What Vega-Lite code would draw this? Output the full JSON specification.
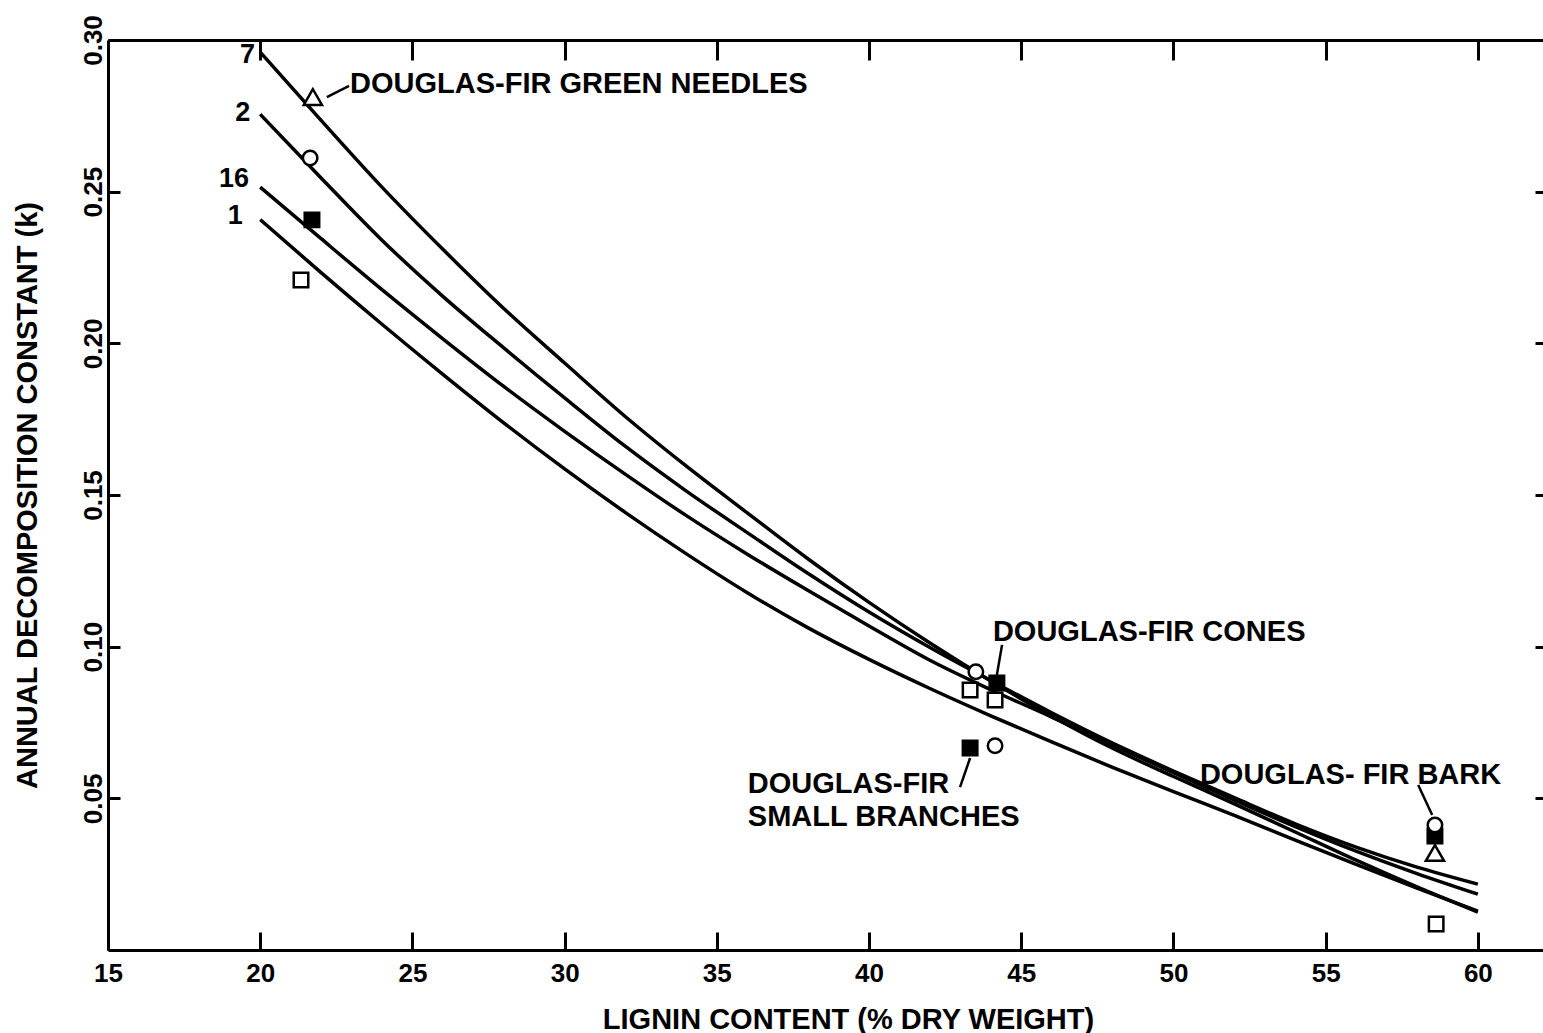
{
  "$schema": "https://vega.github.io/schema/vega-lite/v6.json",
  "width": 1435,
  "height": 910,
  "autosize": {"type": "none"},
  "padding": {"left": 108, "top": 40, "right": 0, "bottom": 83},
  "background": "white",
  "config": {"view": {"stroke": null}, "font": "Liberation Sans"},
  "datasets": {
    "curves": [
      {"curve": "7", "lignin": 20, "k": 0.296}, {"curve": "7", "lignin": 22, "k": 0.2735}, {"curve": "7", "lignin": 24, "k": 0.2515}, {"curve": "7", "lignin": 26, "k": 0.231}, {"curve": "7", "lignin": 28, "k": 0.2115}, {"curve": "7", "lignin": 30, "k": 0.1935}, {"curve": "7", "lignin": 32, "k": 0.1758}, {"curve": "7", "lignin": 34, "k": 0.1595}, {"curve": "7", "lignin": 36, "k": 0.1441}, {"curve": "7", "lignin": 38, "k": 0.1289}, {"curve": "7", "lignin": 40, "k": 0.1146}, {"curve": "7", "lignin": 42, "k": 0.1012}, {"curve": "7", "lignin": 44, "k": 0.0887}, {"curve": "7", "lignin": 46, "k": 0.0771}, {"curve": "7", "lignin": 48, "k": 0.0665}, {"curve": "7", "lignin": 50, "k": 0.0572}, {"curve": "7", "lignin": 52, "k": 0.0482}, {"curve": "7", "lignin": 54, "k": 0.0389}, {"curve": "7", "lignin": 56, "k": 0.0296}, {"curve": "7", "lignin": 58, "k": 0.0208}, {"curve": "7", "lignin": 60, "k": 0.0125},
      {"curve": "2", "lignin": 20, "k": 0.2755}, {"curve": "2", "lignin": 22, "k": 0.2545}, {"curve": "2", "lignin": 24, "k": 0.234}, {"curve": "2", "lignin": 26, "k": 0.2155}, {"curve": "2", "lignin": 28, "k": 0.1985}, {"curve": "2", "lignin": 30, "k": 0.182}, {"curve": "2", "lignin": 32, "k": 0.166}, {"curve": "2", "lignin": 34, "k": 0.1513}, {"curve": "2", "lignin": 36, "k": 0.1376}, {"curve": "2", "lignin": 38, "k": 0.1241}, {"curve": "2", "lignin": 40, "k": 0.1114}, {"curve": "2", "lignin": 42, "k": 0.0997}, {"curve": "2", "lignin": 44, "k": 0.0888}, {"curve": "2", "lignin": 46, "k": 0.0782}, {"curve": "2", "lignin": 48, "k": 0.0682}, {"curve": "2", "lignin": 50, "k": 0.059}, {"curve": "2", "lignin": 52, "k": 0.0502}, {"curve": "2", "lignin": 54, "k": 0.0416}, {"curve": "2", "lignin": 56, "k": 0.0339}, {"curve": "2", "lignin": 58, "k": 0.0273}, {"curve": "2", "lignin": 60, "k": 0.0217},
      {"curve": "16", "lignin": 20, "k": 0.2515}, {"curve": "16", "lignin": 22, "k": 0.2345}, {"curve": "16", "lignin": 24, "k": 0.2177}, {"curve": "16", "lignin": 26, "k": 0.2015}, {"curve": "16", "lignin": 28, "k": 0.1858}, {"curve": "16", "lignin": 30, "k": 0.171}, {"curve": "16", "lignin": 32, "k": 0.1568}, {"curve": "16", "lignin": 34, "k": 0.1432}, {"curve": "16", "lignin": 36, "k": 0.1305}, {"curve": "16", "lignin": 38, "k": 0.1185}, {"curve": "16", "lignin": 40, "k": 0.1068}, {"curve": "16", "lignin": 42, "k": 0.0955}, {"curve": "16", "lignin": 44, "k": 0.0858}, {"curve": "16", "lignin": 46, "k": 0.0768}, {"curve": "16", "lignin": 48, "k": 0.0675}, {"curve": "16", "lignin": 50, "k": 0.0585}, {"curve": "16", "lignin": 52, "k": 0.0494}, {"curve": "16", "lignin": 54, "k": 0.0407}, {"curve": "16", "lignin": 56, "k": 0.0326}, {"curve": "16", "lignin": 58, "k": 0.0252}, {"curve": "16", "lignin": 60, "k": 0.0184},
      {"curve": "1", "lignin": 20, "k": 0.2408}, {"curve": "1", "lignin": 22, "k": 0.2233}, {"curve": "1", "lignin": 24, "k": 0.2063}, {"curve": "1", "lignin": 26, "k": 0.1898}, {"curve": "1", "lignin": 28, "k": 0.1738}, {"curve": "1", "lignin": 30, "k": 0.1586}, {"curve": "1", "lignin": 32, "k": 0.1442}, {"curve": "1", "lignin": 34, "k": 0.1306}, {"curve": "1", "lignin": 36, "k": 0.1178}, {"curve": "1", "lignin": 38, "k": 0.1062}, {"curve": "1", "lignin": 40, "k": 0.0958}, {"curve": "1", "lignin": 42, "k": 0.0862}, {"curve": "1", "lignin": 44, "k": 0.0772}, {"curve": "1", "lignin": 46, "k": 0.0686}, {"curve": "1", "lignin": 48, "k": 0.0602}, {"curve": "1", "lignin": 50, "k": 0.0522}, {"curve": "1", "lignin": 52, "k": 0.0444}, {"curve": "1", "lignin": 54, "k": 0.0362}, {"curve": "1", "lignin": 56, "k": 0.0282}, {"curve": "1", "lignin": 58, "k": 0.0204}, {"curve": "1", "lignin": 60, "k": 0.0128}
    ],
    "markers": [
      {"litter": "cones", "shape": "square", "filled": "no", "lignin": 43.32, "k": 0.0857},
      {"litter": "cones", "shape": "square", "filled": "no", "lignin": 44.14, "k": 0.0824},
      {"litter": "needles", "shape": "square", "filled": "no", "lignin": 21.34, "k": 0.2209},
      {"litter": "bark", "shape": "square", "filled": "no", "lignin": 58.63, "k": 0.0086},
      {"litter": "needles", "shape": "circle", "filled": "no", "lignin": 21.64, "k": 0.2611},
      {"litter": "needles", "shape": "square", "filled": "yes", "lignin": 21.7, "k": 0.2407},
      {"litter": "cones", "shape": "circle", "filled": "no", "lignin": 43.51, "k": 0.0917},
      {"litter": "cones", "shape": "square", "filled": "yes", "lignin": 44.2, "k": 0.088},
      {"litter": "branches", "shape": "square", "filled": "yes", "lignin": 43.32, "k": 0.0666},
      {"litter": "branches", "shape": "circle", "filled": "no", "lignin": 44.14, "k": 0.0673},
      {"litter": "bark", "shape": "square", "filled": "yes", "lignin": 58.59, "k": 0.0376},
      {"litter": "bark", "shape": "circle", "filled": "no", "lignin": 58.59, "k": 0.0412},
      {"litter": "needles", "shape": "triangle", "filled": "no", "lignin": 21.73, "k": 0.2812},
      {"litter": "bark", "shape": "triangle", "filled": "no", "lignin": 58.59, "k": 0.032}
    ],
    "leaders": [
      {"name": "needles", "x1": 22.19, "y1": 0.2812, "x2": 22.92, "y2": 0.2849},
      {"name": "cones", "x1": 44.2, "y1": 0.0907, "x2": 44.37, "y2": 0.1006},
      {"name": "branches", "x1": 43.32, "y1": 0.0633, "x2": 42.99, "y2": 0.0537},
      {"name": "bark", "x1": 58.04, "y1": 0.0544, "x2": 58.5, "y2": 0.0445}
    ],
    "notes": [
      {"text": "DOUGLAS-FIR GREEN NEEDLES", "lignin": 22.95, "k": 0.2855},
      {"text": "DOUGLAS-FIR CONES", "lignin": 44.07, "k": 0.1048},
      {"text": "DOUGLAS-FIR", "lignin": 36.02, "k": 0.0547},
      {"text": "SMALL BRANCHES", "lignin": 36.02, "k": 0.0439},
      {"text": "DOUGLAS- FIR BARK", "lignin": 50.87, "k": 0.0577}
    ],
    "curvelabels": [
      {"text": "7", "lignin": 19.83, "k": 0.2951},
      {"text": "2", "lignin": 19.67, "k": 0.276},
      {"text": "16", "lignin": 19.63, "k": 0.2542},
      {"text": "1", "lignin": 19.43, "k": 0.242}
    ]
  },
  "layer": [
    {
      "data": {"name": "curves"},
      "mark": {"type": "line", "interpolate": "monotone", "color": "black", "strokeWidth": 3.5},
      "encoding": {
        "x": {"field": "lignin", "type": "quantitative", "scale": {"domain": [15, 62.14], "nice": false, "zero": false},
          "axis": {"orient": "bottom", "values": [15, 20, 25, 30, 35, 40, 45, 50, 55, 60], "title": "LIGNIN CONTENT (% DRY WEIGHT)", "grid": false,
            "ticks": true, "tickSize": -18, "tickWidth": 3, "tickColor": "black", "tickOpacity": 1, "domainColor": "black", "domainWidth": 3,
            "labelFont": "Liberation Sans", "labelFontSize": 26, "labelFontWeight": "bold", "labelColor": "black", "labelPadding": 28, "labelFlush": false, "labelOverlap": false,
            "titleFont": "Liberation Sans", "titleFontSize": 29, "titleFontWeight": "bold", "titleColor": "black", "titlePadding": 19, "titleX": 740}},
        "y": {"field": "k", "type": "quantitative", "scale": {"domain": [0, 0.3], "nice": false, "zero": false},
          "axis": {"orient": "left", "values": [0.05, 0.1, 0.15, 0.2, 0.25, 0.3], "format": ".2f", "title": "ANNUAL DECOMPOSITION CONSTANT (k)", "grid": false,
            "ticks": true, "tickSize": -12, "tickWidth": 3, "tickColor": "black", "tickOpacity": 1, "domainColor": "black", "domainWidth": 3,
            "labelFont": "Liberation Sans", "labelFontSize": 26, "labelFontWeight": "bold", "labelColor": "black", "labelAngle": -90, "labelAlign": "center", "labelBaseline": "bottom", "labelPadding": 14, "labelFlush": false, "labelOverlap": false,
            "titleFont": "Liberation Sans", "titleFontSize": 29, "titleFontWeight": "bold", "titleColor": "black", "titlePadding": 38}},
        "detail": {"field": "curve", "type": "nominal"}
      }
    },
    {
      "data": {"name": "leaders"},
      "mark": {"type": "rule", "color": "black", "strokeWidth": 2.5},
      "encoding": {
        "x": {"field": "x1", "type": "quantitative",
          "axis": {"orient": "top", "values": [20, 25, 30, 35, 40, 45, 50, 55, 60], "labels": false, "title": null, "grid": false, "ticks": true, "tickSize": -20, "tickWidth": 3, "tickColor": "black", "tickOpacity": 1, "domainColor": "black", "domainWidth": 3}},
        "x2": {"field": "x2"},
        "y": {"field": "y1", "type": "quantitative",
          "axis": {"orient": "right", "values": [0.05, 0.1, 0.15, 0.2, 0.25], "labels": false, "title": null, "grid": false, "domain": false, "ticks": true, "tickSize": -8, "tickWidth": 3, "tickColor": "black", "tickOpacity": 1}},
        "y2": {"field": "y2"}
      }
    },
    {
      "data": {"name": "markers"},
      "transform": [{"filter": "datum.shape !== 'triangle'"}],
      "mark": {"type": "point", "filled": true, "stroke": "black", "strokeWidth": 2.5, "size": 210, "opacity": 1},
      "encoding": {
        "x": {"field": "lignin", "type": "quantitative", "axis": null},
        "y": {"field": "k", "type": "quantitative", "axis": null},
        "shape": {"field": "shape", "type": "nominal", "scale": {"domain": ["circle", "square"], "range": ["circle", "square"]}, "legend": null},
        "fill": {"field": "filled", "type": "nominal", "scale": {"domain": ["yes", "no"], "range": ["black", "white"]}, "legend": null}
      }
    },
    {
      "data": {"name": "markers"},
      "transform": [{"filter": "datum.shape === 'triangle'"}],
      "mark": {"type": "point", "shape": "triangle-up", "filled": true, "fill": "white", "stroke": "black", "strokeWidth": 2.5, "size": 330, "opacity": 1},
      "encoding": {
        "x": {"field": "lignin", "type": "quantitative", "axis": null},
        "y": {"field": "k", "type": "quantitative", "axis": null}
      }
    },
    {
      "data": {"name": "notes"},
      "mark": {"type": "text", "align": "left", "baseline": "middle", "font": "Liberation Sans", "fontSize": 29, "fontWeight": "bold", "color": "black"},
      "encoding": {
        "x": {"field": "lignin", "type": "quantitative", "axis": null},
        "y": {"field": "k", "type": "quantitative", "axis": null},
        "text": {"field": "text", "type": "nominal"}
      }
    },
    {
      "data": {"name": "curvelabels"},
      "mark": {"type": "text", "align": "right", "baseline": "middle", "font": "Liberation Sans", "fontSize": 27, "fontWeight": "bold", "color": "black"},
      "encoding": {
        "x": {"field": "lignin", "type": "quantitative", "axis": null},
        "y": {"field": "k", "type": "quantitative", "axis": null},
        "text": {"field": "text", "type": "nominal"}
      }
    }
  ],
  "resolve": {"axis": {"x": "independent", "y": "independent"}}
}
